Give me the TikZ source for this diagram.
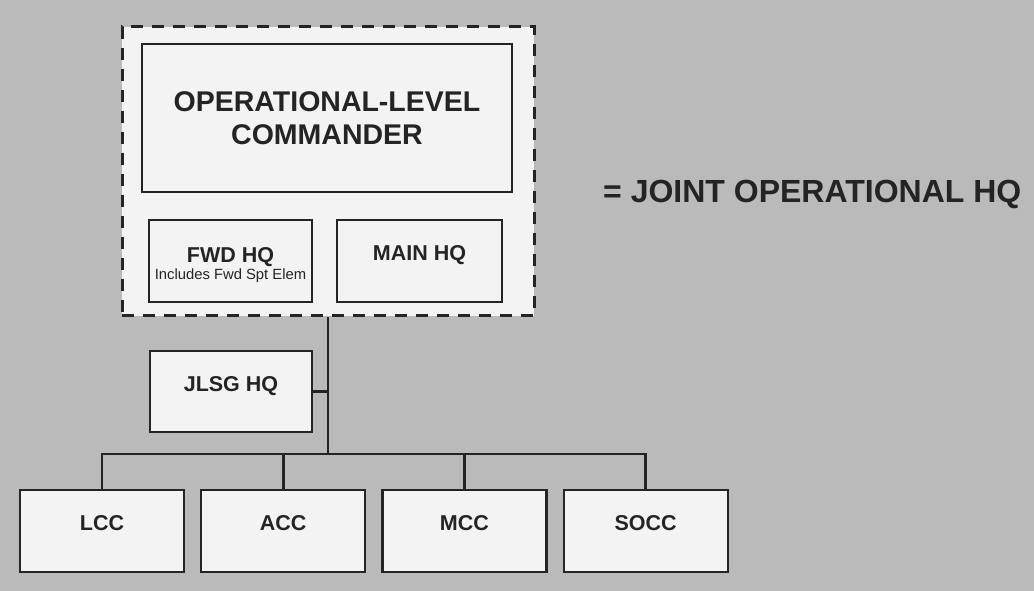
\documentclass[tikz,border=0pt]{standalone}
\usepackage{fontspec}
\setmainfont{Liberation Sans}
\usepackage{xcolor}
\definecolor{cBack}{HTML}{BABABA}
\definecolor{cPaper}{HTML}{F3F3F3}
\definecolor{cInk}{HTML}{242424}
\usepackage{tikz}
\usetikzlibrary{positioning}
\tikzset{
  node-box/.style={draw=cInk,line width=2.2pt,fill=cPaper,text=cInk,
    minimum width=164pt,minimum height=82pt,inner sep=0pt,align=center,
    font=\fontsize{21.5}{17}\selectfont\bfseries},
  node-raised/.style={text height=15.4pt,text depth=16pt},
  node-group/.style={draw=cInk,line width=3pt,dash pattern=on 12pt off 9pt,
    fill=cPaper},
  node-key/.style={text=cInk,inner sep=0pt,anchor=base west,
    font=\fontsize{32}{36}\selectfont\bfseries},
  link/.style={draw=cInk,line width=2.8pt},
}

\begin{document}
\begin{tikzpicture}[x=1pt,y=1pt]
  \useasboundingbox (0,0) rectangle (1034,591);
  \fill[cBack] (0,0) rectangle (1034,591);
  % joint operational HQ group
  \node[node-group,minimum width=412pt,minimum height=289pt] (jhq) at (328,419.5) {};
  \node[node-box,minimum width=370pt,minimum height=148pt,
    font=\fontsize{28.5}{33}\selectfont\bfseries] (olc) at (327,473)
    {OPERATIONAL-LEVEL\\COMMANDER};
  \node[node-box,minimum width=163pt,text height=40pt] (fwd) at (230.5,330)
    {FWD HQ\\{\mdseries\fontsize{14.8}{17}\selectfont Includes Fwd Spt Elem}};
  \node[node-box,node-raised,minimum width=165pt] (main) at (419.5,330) {MAIN HQ};
  \node[node-key] (key) at (603,388) {= JOINT OPERATIONAL HQ};
  % logistics and components
  \node[node-box,node-raised,minimum width=162pt,minimum height=81pt] (jlsg) at (231,199.5) {JLSG HQ};
  \node[node-box,node-raised] (lcc) at (102,60) {LCC};
  \node[node-box,node-raised,right=15pt of lcc] (acc) {ACC};
  \node[node-box,node-raised,right=15pt of acc] (mcc) {MCC};
  \node[node-box,node-raised,right=15pt of mcc] (socc) {SOCC};
  \coordinate (bus) at (0,137);
  \draw[link] (jhq.south) -- (jhq.south |- bus);
  \draw[link] (jlsg.east) -- (jlsg.east -| jhq.south);
  \draw[link] (lcc.north) -- (lcc.north |- bus) -- (socc.north |- bus) -- (socc.north);
  \draw[link] (acc.north) -- (acc.north |- bus);
  \draw[link] (mcc.north) -- (mcc.north |- bus);
\end{tikzpicture}
\end{document}
